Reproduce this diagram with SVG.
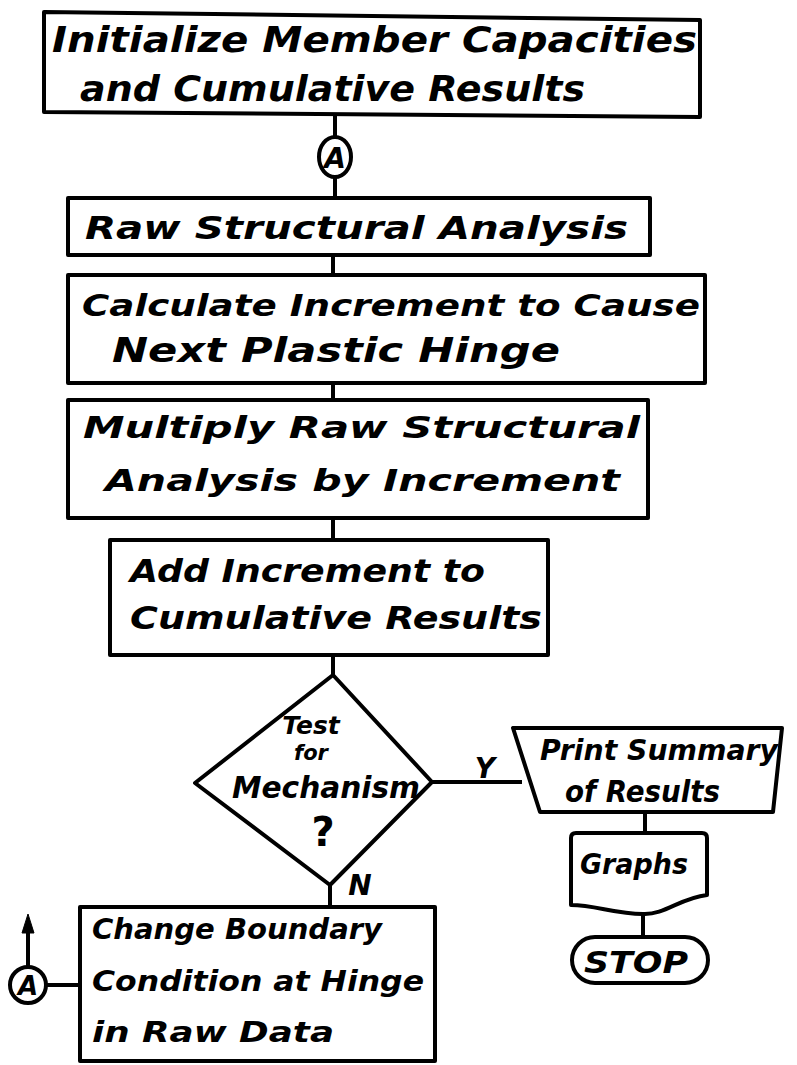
<svg xmlns="http://www.w3.org/2000/svg" width="797" height="1065" viewBox="0 0 797 1065">
<style>
.s{fill:none;stroke:#000;stroke-width:4;stroke-linejoin:round}
.t{font-family:"DejaVu Sans",sans-serif;font-style:italic;font-weight:bold;fill:#000}
</style>
<rect width="797" height="1065" fill="#fff"/>
<g id="connectors" class="s">
<line x1="335" y1="116" x2="335" y2="138"/>
<line x1="335" y1="177" x2="335" y2="198"/>
<line x1="333" y1="255" x2="333" y2="275"/>
<line x1="333" y1="383" x2="333" y2="400"/>
<line x1="333" y1="518" x2="333" y2="540"/>
<line x1="333" y1="655" x2="333" y2="675"/>
<line x1="432" y1="782" x2="522" y2="782"/>
<line x1="645" y1="812" x2="645" y2="833"/>
<line x1="643" y1="913" x2="643" y2="937"/>
<line x1="330" y1="885" x2="330" y2="907"/>
<line x1="46" y1="985" x2="80" y2="985"/>
<line x1="28" y1="967" x2="28" y2="930"/>
<path d="M28,914 L34,933 L22,933 Z" fill="#000" stroke="#000" stroke-width="1"/>
</g>
<g id="init">
<path class="s" d="M44,12 L700,20 L700,117 L44,112 Z"/>
<text class="t" x="52" y="52" font-size="36" textLength="645" lengthAdjust="spacingAndGlyphs">Initialize Member Capacities</text>
<text class="t" x="80" y="101" font-size="36" textLength="505" lengthAdjust="spacingAndGlyphs">and Cumulative Results</text>
</g>
<g id="connA1">
<ellipse class="s" cx="335" cy="157" rx="16" ry="20"/>
<text class="t" x="335" y="168" font-size="28" text-anchor="middle">A</text>
</g>
<g id="raw">
<rect class="s" x="68" y="198" width="582" height="57"/>
<text class="t" x="85" y="239" font-size="32" textLength="543" lengthAdjust="spacingAndGlyphs">Raw Structural Analysis</text>
</g>
<g id="calc">
<rect class="s" x="68" y="275" width="637" height="108"/>
<text class="t" x="82" y="316" font-size="30" textLength="618" lengthAdjust="spacingAndGlyphs">Calculate Increment to Cause</text>
<text class="t" x="112" y="362" font-size="34" textLength="448" lengthAdjust="spacingAndGlyphs">Next Plastic Hinge</text>
</g>
<g id="mult">
<rect class="s" x="68" y="400" width="580" height="118"/>
<text class="t" x="83" y="438" font-size="31" textLength="557" lengthAdjust="spacingAndGlyphs">Multiply Raw Structural</text>
<text class="t" x="105" y="491" font-size="31" textLength="515" lengthAdjust="spacingAndGlyphs">Analysis by Increment</text>
</g>
<g id="add">
<rect class="s" x="110" y="540" width="438" height="115"/>
<text class="t" x="130" y="582" font-size="32" textLength="355" lengthAdjust="spacingAndGlyphs">Add Increment to</text>
<text class="t" x="130" y="629" font-size="32" textLength="412" lengthAdjust="spacingAndGlyphs">Cumulative Results</text>
</g>
<g id="test">
<path class="s" d="M333,675 L432,782 L330,885 L195,783 Z"/>
<text class="t" x="311" y="734" font-size="25" text-anchor="middle">Test</text>
<text class="t" x="311" y="760" font-size="21" text-anchor="middle">for</text>
<text class="t" x="232" y="798" font-size="31" textLength="188" lengthAdjust="spacingAndGlyphs">Mechanism</text>
<text x="323" y="846" font-size="40" text-anchor="middle" font-family="DejaVu Sans,sans-serif" font-weight="bold" fill="#000">?</text>
<text class="t" x="485" y="778" font-size="28" text-anchor="middle">Y</text>
<text class="t" x="360" y="895" font-size="28" text-anchor="middle">N</text>
</g>
<g id="print">
<path class="s" d="M513,728 L782,728 L773,812 L540,812 Z"/>
<text class="t" x="540" y="760" font-size="28" textLength="238" lengthAdjust="spacingAndGlyphs">Print Summary</text>
<text class="t" x="565" y="802" font-size="30" textLength="155" lengthAdjust="spacingAndGlyphs">of Results</text>
</g>
<g id="graphs">
<path class="s" d="M576,833 L702,833 Q707,833 707,838 L707,895 C680,898 665,915 643,914 C615,914 595,905 571,905 L571,838 Q571,833 576,833 Z"/>
<text class="t" x="580" y="874" font-size="28" textLength="108" lengthAdjust="spacingAndGlyphs">Graphs</text>
</g>
<g id="stop">
<rect class="s" x="572" y="937" width="136" height="46" rx="23"/>
<text class="t" x="584" y="973" font-size="30" textLength="104" lengthAdjust="spacingAndGlyphs">STOP</text>
</g>
<g id="change">
<rect class="s" x="80" y="907" width="355" height="154"/>
<text class="t" x="92" y="939" font-size="29" textLength="290" lengthAdjust="spacingAndGlyphs">Change Boundary</text>
<text class="t" x="92" y="991" font-size="29" textLength="332" lengthAdjust="spacingAndGlyphs">Condition at Hinge</text>
<text class="t" x="92" y="1042" font-size="29" textLength="242" lengthAdjust="spacingAndGlyphs">in Raw Data</text>
</g>
<g id="connA2">
<circle class="s" cx="28" cy="985" r="18"/>
<text class="t" x="28" y="995" font-size="26" text-anchor="middle">A</text>
</g>
</svg>
